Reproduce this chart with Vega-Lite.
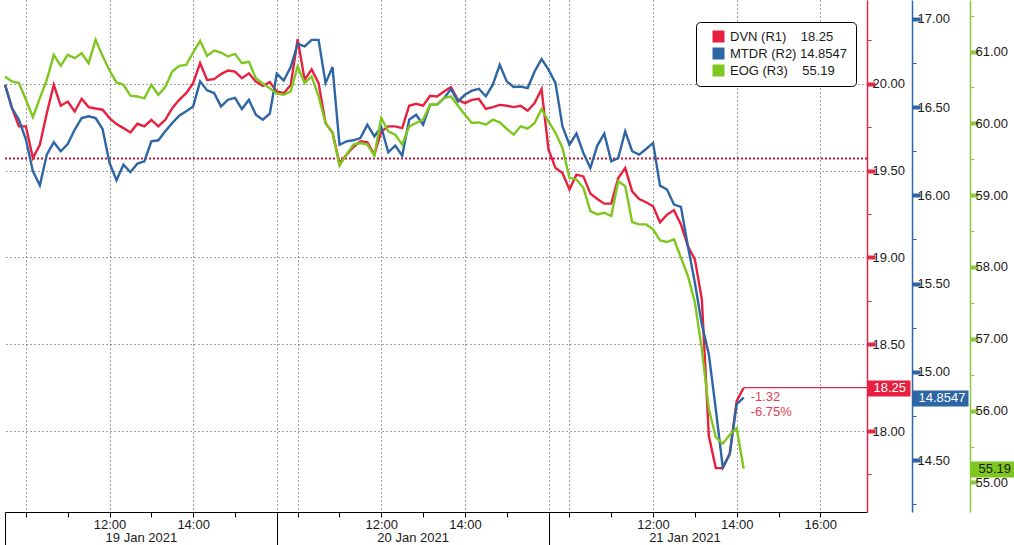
{
  "$schema": "https://vega.github.io/schema/vega-lite/v6.json",
  "width": 862,
  "height": 512,
  "padding": 0,
  "autosize": {"type": "pad"},
  "background": "#ffffff",
  "datasets": {
    "px": [
      {"t":0,"DVN":19.994,"MTDR":16.627,"EOG":60.653},
      {"t":10,"DVN":19.860,"MTDR":16.495,"EOG":60.584},
      {"t":20,"DVN":19.755,"MTDR":16.429,"EOG":60.561},
      {"t":30,"DVN":19.755,"MTDR":16.316,"EOG":60.329},
      {"t":40,"DVN":19.573,"MTDR":16.137,"EOG":60.088},
      {"t":50,"DVN":19.649,"MTDR":16.057,"EOG":60.352},
      {"t":60,"DVN":19.831,"MTDR":16.231,"EOG":60.607},
      {"t":70,"DVN":19.994,"MTDR":16.301,"EOG":60.954},
      {"t":80,"DVN":19.874,"MTDR":16.250,"EOG":60.801},
      {"t":90,"DVN":19.898,"MTDR":16.291,"EOG":60.954},
      {"t":100,"DVN":19.841,"MTDR":16.372,"EOG":60.908},
      {"t":110,"DVN":19.914,"MTDR":16.438,"EOG":60.977},
      {"t":120,"DVN":19.866,"MTDR":16.448,"EOG":60.838},
      {"t":130,"DVN":19.858,"MTDR":16.438,"EOG":61.163},
      {"t":140,"DVN":19.851,"MTDR":16.376,"EOG":60.940},
      {"t":150,"DVN":19.803,"MTDR":16.184,"EOG":60.737},
      {"t":160,"DVN":19.768,"MTDR":16.086,"EOG":60.570},
      {"t":170,"DVN":19.745,"MTDR":16.174,"EOG":60.537},
      {"t":180,"DVN":19.720,"MTDR":16.131,"EOG":60.385},
      {"t":190,"DVN":19.770,"MTDR":16.180,"EOG":60.375},
      {"t":200,"DVN":19.755,"MTDR":16.193,"EOG":60.348},
      {"t":210,"DVN":19.793,"MTDR":16.306,"EOG":60.537},
      {"t":220,"DVN":19.755,"MTDR":16.312,"EOG":60.399},
      {"t":230,"DVN":19.793,"MTDR":16.363,"EOG":60.505},
      {"t":240,"DVN":19.860,"MTDR":16.410,"EOG":60.723},
      {"t":250,"DVN":19.908,"MTDR":16.451,"EOG":60.801},
      {"t":260,"DVN":19.946,"MTDR":16.476,"EOG":60.815},
      {"t":270,"DVN":20.004,"MTDR":16.504,"EOG":60.987},
      {"t":280,"DVN":20.119,"MTDR":16.646,"EOG":61.149},
      {"t":290,"DVN":20.023,"MTDR":16.595,"EOG":60.940},
      {"t":300,"DVN":20.027,"MTDR":16.580,"EOG":61.014},
      {"t":310,"DVN":20.056,"MTDR":16.504,"EOG":60.987},
      {"t":320,"DVN":20.077,"MTDR":16.542,"EOG":60.931},
      {"t":330,"DVN":20.071,"MTDR":16.553,"EOG":60.968},
      {"t":340,"DVN":20.033,"MTDR":16.489,"EOG":60.838},
      {"t":350,"DVN":20.061,"MTDR":16.542,"EOG":60.857},
      {"t":360,"DVN":20.013,"MTDR":16.457,"EOG":60.630},
      {"t":370,"DVN":19.989,"MTDR":16.429,"EOG":60.551},
      {"t":380,"DVN":20.010,"MTDR":16.463,"EOG":60.491},
      {"t":390,"DVN":19.956,"MTDR":16.689,"EOG":60.413},
      {"t":400,"DVN":19.946,"MTDR":16.651,"EOG":60.399},
      {"t":410,"DVN":19.994,"MTDR":16.727,"EOG":60.445},
      {"t":420,"DVN":20.257,"MTDR":16.859,"EOG":60.792},
      {"t":430,"DVN":20.023,"MTDR":16.844,"EOG":60.561},
      {"t":440,"DVN":20.084,"MTDR":16.881,"EOG":60.653},
      {"t":450,"DVN":20.004,"MTDR":16.881,"EOG":60.375},
      {"t":460,"DVN":19.774,"MTDR":16.636,"EOG":60.005},
      {"t":470,"DVN":19.720,"MTDR":16.727,"EOG":59.866},
      {"t":480,"DVN":19.544,"MTDR":16.287,"EOG":59.413},
      {"t":490,"DVN":19.592,"MTDR":16.306,"EOG":59.565},
      {"t":500,"DVN":19.636,"MTDR":16.312,"EOG":59.704},
      {"t":510,"DVN":19.669,"MTDR":16.325,"EOG":59.727},
      {"t":520,"DVN":19.663,"MTDR":16.401,"EOG":59.704},
      {"t":530,"DVN":19.592,"MTDR":16.335,"EOG":59.551},
      {"t":540,"DVN":19.726,"MTDR":16.387,"EOG":60.075},
      {"t":550,"DVN":19.755,"MTDR":16.244,"EOG":59.889},
      {"t":560,"DVN":19.755,"MTDR":16.282,"EOG":59.843},
      {"t":570,"DVN":19.745,"MTDR":16.225,"EOG":59.704},
      {"t":580,"DVN":19.874,"MTDR":16.429,"EOG":59.959},
      {"t":590,"DVN":19.885,"MTDR":16.457,"EOG":60.005},
      {"t":600,"DVN":19.874,"MTDR":16.401,"EOG":60.051},
      {"t":610,"DVN":19.931,"MTDR":16.514,"EOG":60.260},
      {"t":620,"DVN":19.927,"MTDR":16.514,"EOG":60.260},
      {"t":630,"DVN":19.956,"MTDR":16.551,"EOG":60.352},
      {"t":640,"DVN":19.981,"MTDR":16.602,"EOG":60.375},
      {"t":650,"DVN":19.908,"MTDR":16.532,"EOG":60.246},
      {"t":660,"DVN":19.889,"MTDR":16.570,"EOG":60.121},
      {"t":670,"DVN":19.908,"MTDR":16.593,"EOG":60.005},
      {"t":680,"DVN":19.914,"MTDR":16.604,"EOG":60.014},
      {"t":690,"DVN":19.856,"MTDR":16.561,"EOG":59.982},
      {"t":700,"DVN":19.866,"MTDR":16.627,"EOG":60.051},
      {"t":710,"DVN":19.879,"MTDR":16.740,"EOG":60.014},
      {"t":720,"DVN":19.874,"MTDR":16.646,"EOG":59.922},
      {"t":730,"DVN":19.866,"MTDR":16.614,"EOG":59.843},
      {"t":740,"DVN":19.874,"MTDR":16.617,"EOG":59.959},
      {"t":750,"DVN":19.845,"MTDR":16.608,"EOG":59.926},
      {"t":760,"DVN":19.889,"MTDR":16.702,"EOG":60.005},
      {"t":770,"DVN":19.969,"MTDR":16.772,"EOG":60.200},
      {"t":780,"DVN":19.621,"MTDR":16.712,"EOG":60.028},
      {"t":790,"DVN":19.515,"MTDR":16.636,"EOG":59.866},
      {"t":800,"DVN":19.487,"MTDR":16.391,"EOG":59.658},
      {"t":810,"DVN":19.391,"MTDR":16.287,"EOG":59.241},
      {"t":820,"DVN":19.477,"MTDR":16.350,"EOG":59.218},
      {"t":830,"DVN":19.467,"MTDR":16.240,"EOG":59.102},
      {"t":840,"DVN":19.368,"MTDR":16.155,"EOG":58.778},
      {"t":850,"DVN":19.337,"MTDR":16.282,"EOG":58.732},
      {"t":860,"DVN":19.310,"MTDR":16.350,"EOG":58.755},
      {"t":870,"DVN":19.310,"MTDR":16.193,"EOG":58.709},
      {"t":880,"DVN":19.458,"MTDR":16.212,"EOG":59.195},
      {"t":890,"DVN":19.515,"MTDR":16.363,"EOG":59.126},
      {"t":900,"DVN":19.381,"MTDR":16.250,"EOG":58.626},
      {"t":910,"DVN":19.337,"MTDR":16.231,"EOG":58.593},
      {"t":920,"DVN":19.318,"MTDR":16.263,"EOG":58.593},
      {"t":930,"DVN":19.295,"MTDR":16.297,"EOG":58.524},
      {"t":940,"DVN":19.203,"MTDR":16.055,"EOG":58.371},
      {"t":950,"DVN":19.247,"MTDR":16.033,"EOG":58.348},
      {"t":960,"DVN":19.272,"MTDR":15.948,"EOG":58.385},
      {"t":970,"DVN":19.190,"MTDR":15.935,"EOG":58.130},
      {"t":980,"DVN":19.065,"MTDR":15.712,"EOG":57.876},
      {"t":990,"DVN":18.989,"MTDR":15.505,"EOG":57.505},
      {"t":1000,"DVN":18.759,"MTDR":15.269,"EOG":56.857},
      {"t":1010,"DVN":17.973,"MTDR":15.100,"EOG":56.024},
      {"t":1020,"DVN":17.787,"MTDR":14.789,"EOG":55.630},
      {"t":1030,"DVN":17.787,"MTDR":14.459,"EOG":55.538},
      {"t":1040,"DVN":17.868,"MTDR":14.534,"EOG":55.663},
      {"t":1050,"DVN":18.174,"MTDR":14.817,"EOG":55.755},
      {"t":1060,"DVN":18.25,"MTDR":14.8547,"EOG":55.19}
    ],
    "last": [{"t":1060,"DVN":18.25,"MTDR":14.8547,"EOG":55.19}],
    "ref": [{"prev_close":19.57}]
  },
  "resolve": {"scale": {"y": "independent"}, "axis": {"y": "independent", "x": "independent"}},
  "layer": [
    {
      "resolve": {"scale": {"y": "shared"}, "axis": {"y": "independent", "x": "independent"}},
      "layer": [
        {
          "data": {"name": "ref"},
          "mark": {"type": "rule", "color": "#c8143c", "strokeWidth": 2, "strokeDash": [2, 2]},
          "encoding": {
            "y": {"field": "prev_close", "type": "quantitative", "axis": null}
          }
        },
        {
          "data": {"name": "px"},
          "transform": [{"fold": ["DVN"], "as": ["series", "price"]}],
          "mark": {"type": "line", "strokeWidth": 2.4},
          "encoding": {
            "x": {
              "field": "t", "type": "quantitative",
              "scale": {"domain": [0, 1237], "nice": false, "zero": false},
              "axis": {
                "orient": "bottom",
                "values": [30,90,150,210,270,330,390,420,480,540,600,660,720,780,810,870,930,990,1050,1110,1170],
                "labelExpr": "(datum.value == 150 || datum.value == 540 || datum.value == 930) ? '12:00' : (datum.value == 270 || datum.value == 660 || datum.value == 1050) ? '14:00' : datum.value == 1170 ? '16:00' : ''",
                "grid": true,
                "gridColor": "#444444",
                "gridDash": [1, 3],
                "gridWidth": 1,
                "gridOpacity": {"condition": {"test": "indexof([30,150,270,390,420,540,660,780,810,930,1050,1170], datum.value) >= 0", "value": 1}, "value": 0},
                "tickSize": 5,
                "tickColor": "#000000",
                "domainColor": "#000000",
                "domainWidth": 1,
                "labelPadding": 1,
                "labelFlush": false,
                "labelOverlap": false,
                "title": null
              }
            },
            "y": {
              "field": "price", "type": "quantitative",
              "scale": {"domain": [17.534, 20.483], "nice": false, "zero": false},
              "axis": {
                "orient": "right",
                "offset": 0,
                "values": [17.75,18,18.25,18.5,18.75,19,19.25,19.5,19.75,20,20.25],
                "labelExpr": "datum.value % 0.5 === 0 ? format(datum.value, '.2f') : ''",
                "domainColor": "#e0284a",
                "domainWidth": 1.5,
                "tickColor": "#e0284a",
                "tickSize": {"condition": {"test": "datum.value % 0.5 === 0", "value": 8}, "value": 4},
                "tickWidth": {"condition": {"test": "datum.value % 0.5 === 0", "value": 4}, "value": 1},
                "labelPadding": -3,
                "grid": true,
                "gridColor": "#444444",
                "gridDash": [1, 3],
                "gridWidth": 1,
                "gridOpacity": {"condition": {"test": "datum.value % 0.5 === 0", "value": 1}, "value": 0},
                "labelOverlap": false,
                "title": null
              }
            },
            "color": {
              "field": "series", "type": "nominal",
              "scale": {"domain": ["DVN", "MTDR", "EOG"], "range": ["#e8203f", "#2d65a5", "#7dc71f"]},
              "legend": {
                "orient": "none",
                "legendX": 691,
                "legendY": 22,
                "title": null,
                "symbolType": "square",
                "symbolSize": 144,
                "symbolOffset": 8,
                "labelOffset": 5,
                "padding": 8,
                "rowPadding": 3,
                "strokeColor": "#000000",
                "fillColor": "#ffffff",
                "cornerRadius": 4,
                "labelFont": "Liberation Sans",
                "labelFontSize": 13,
                "labelColor": "#1a1a1a",
                "labelLimit": 400,
                "labelExpr": "datum.label === 'DVN' ? 'DVN\u00a0(R1)\u00a0\u00a0\u00a0\u00a018.25' : datum.label === 'MTDR' ? 'MTDR\u00a0(R2)\u00a014.8547' : 'EOG\u00a0(R3)\u00a0\u00a0\u00a0\u00a055.19'",
                "encode": {
                  "symbols": {"update": {"fill": {"scale": "color", "field": "value"}, "strokeWidth": {"value": 0}, "opacity": {"value": 1}}}
                }
              }
            }
          }
        },
        {
          "data": {"name": "last"},
          "mark": {"type": "rule", "color": "#e0284a", "strokeWidth": 1.2},
          "encoding": {
            "x": {"field": "t", "type": "quantitative", "axis": null},
            "x2": {"datum": 1237},
            "y": {
              "field": "DVN", "type": "quantitative",
              "axis": {
                "orient": "right",
                "offset": 0,
                "values": [18.25],
                "labelExpr": "'18.25'",
                "domain": false,
                "grid": false,
                "tickColor": "#e8203f",
                "tickSize": 43,
                "tickWidth": 16,
                "labelPadding": -37,
                "labelColor": "#ffffff",
                "labelOverlap": false,
                "title": null
              }
            }
          }
        },
        {
          "data": {"name": "last"},
          "mark": {"type": "text", "text": ["-1.32", "-6.75%"], "align": "left", "baseline": "top", "dx": 7, "dy": 3, "lineHeight": 15, "font": "Liberation Sans", "fontSize": 13, "color": "#e0405a"},
          "encoding": {
            "x": {"field": "t", "type": "quantitative", "axis": null},
            "y": {"field": "DVN", "type": "quantitative", "axis": null}
          }
        }
      ]
    },
    {
      "resolve": {"scale": {"y": "shared"}, "axis": {"y": "independent", "x": "independent"}},
      "layer": [
        {
          "data": {"name": "px"},
          "transform": [{"fold": ["MTDR"], "as": ["series", "price"]}],
          "mark": {"type": "line", "strokeWidth": 2.4},
          "encoding": {
            "x": {"field": "t", "type": "quantitative", "scale": {"domain": [0, 1237], "nice": false, "zero": false}, "axis": null},
            "y": {
              "field": "price", "type": "quantitative",
              "scale": {"domain": [14.206, 17.107], "nice": false, "zero": false},
              "axis": {
                "orient": "right",
                "offset": 45,
                "values": [14.25,14.5,14.75,15,15.25,15.5,15.75,16,16.25,16.5,16.75,17],
                "labelExpr": "datum.value % 0.5 === 0 ? format(datum.value, '.2f') : ''",
                "domainColor": "#2d65a5",
                "domainWidth": 1.5,
                "tickColor": "#2d65a5",
                "tickSize": {"condition": {"test": "datum.value % 0.5 === 0", "value": 8}, "value": 4},
                "tickWidth": {"condition": {"test": "datum.value % 0.5 === 0", "value": 4}, "value": 1},
                "labelPadding": -3,
                "grid": false,
                "labelOverlap": false,
                "title": null
              }
            },
            "color": {"field": "series", "type": "nominal", "legend": null}
          }
        },
        {
          "data": {"name": "last"},
          "mark": {"type": "point", "opacity": 0},
          "encoding": {
            "x": {"field": "t", "type": "quantitative", "axis": null},
            "y": {
              "field": "MTDR", "type": "quantitative",
              "axis": {
                "orient": "right",
                "offset": 45,
                "values": [14.8547],
                "labelExpr": "'14.8547'",
                "domain": false,
                "grid": false,
                "tickColor": "#2d65a5",
                "tickSize": 56,
                "tickWidth": 16,
                "labelPadding": -50,
                "labelColor": "#ffffff",
                "labelOverlap": false,
                "title": null
              }
            }
          }
        }
      ]
    },
    {
      "resolve": {"scale": {"y": "shared"}, "axis": {"y": "independent", "x": "independent"}},
      "layer": [
        {
          "data": {"name": "px"},
          "transform": [{"fold": ["EOG"], "as": ["series", "price"]}],
          "mark": {"type": "line", "strokeWidth": 2.4},
          "encoding": {
            "x": {"field": "t", "type": "quantitative", "scale": {"domain": [0, 1237], "nice": false, "zero": false}, "axis": null},
            "y": {
              "field": "price", "type": "quantitative",
              "scale": {"domain": [54.588, 61.718], "nice": false, "zero": false},
              "axis": {
                "orient": "right",
                "offset": 103,
                "values": [55,55.5,56,56.5,57,57.5,58,58.5,59,59.5,60,60.5,61,61.5],
                "labelExpr": "datum.value % 1 === 0 ? format(datum.value, '.2f') : ''",
                "domainColor": "#8cc63f",
                "domainWidth": 1.5,
                "tickColor": "#8cc63f",
                "tickSize": {"condition": {"test": "datum.value % 1 === 0", "value": 8}, "value": 4},
                "tickWidth": {"condition": {"test": "datum.value % 1 === 0", "value": 4}, "value": 1},
                "labelPadding": -3,
                "grid": false,
                "labelOverlap": false,
                "title": null
              }
            },
            "color": {"field": "series", "type": "nominal", "legend": null}
          }
        },
        {
          "data": {"name": "last"},
          "mark": {"type": "point", "opacity": 0},
          "encoding": {
            "x": {"field": "t", "type": "quantitative", "axis": null},
            "y": {
              "field": "EOG", "type": "quantitative",
              "axis": {
                "orient": "right",
                "offset": 103,
                "values": [55.19],
                "labelExpr": "'55.19'",
                "domain": false,
                "grid": false,
                "tickColor": "#7dc71f",
                "tickSize": 49,
                "tickWidth": 16,
                "labelPadding": -41,
                "labelColor": "#1a1a1a",
                "labelOverlap": false,
                "title": null
              }
            }
          }
        }
      ]
    },
    {
      "data": {"name": "px"},
      "mark": {"type": "point", "opacity": 0},
      "encoding": {
        "x": {
          "field": "t", "type": "quantitative",
          "scale": {"domain": [0, 1237], "nice": false, "zero": false},
          "axis": {
            "orient": "bottom",
            "values": [0, 195, 390, 585, 780, 975],
            "labelExpr": "datum.value == 195 ? '19 Jan 2021' : datum.value == 585 ? '20 Jan 2021' : datum.value == 975 ? '21 Jan 2021' : ''",
            "tickSize": 33,
            "tickColor": "#000000",
            "tickWidth": 1,
            "tickOpacity": {"condition": {"test": "datum.value % 390 === 0", "value": 1}, "value": 0},
            "domain": false,
            "grid": false,
            "labelPadding": -14,
            "labelFlush": false,
            "labelOverlap": false,
            "title": null
          }
        }
      }
    }
  ],
  "config": {
    "font": "Liberation Sans",
    "view": {"stroke": null},
    "axis": {"labelFont": "Liberation Sans", "labelFontSize": 13, "labelColor": "#1a1a1a"},
    "legend": {"labelFont": "Liberation Sans"}
  }
}
